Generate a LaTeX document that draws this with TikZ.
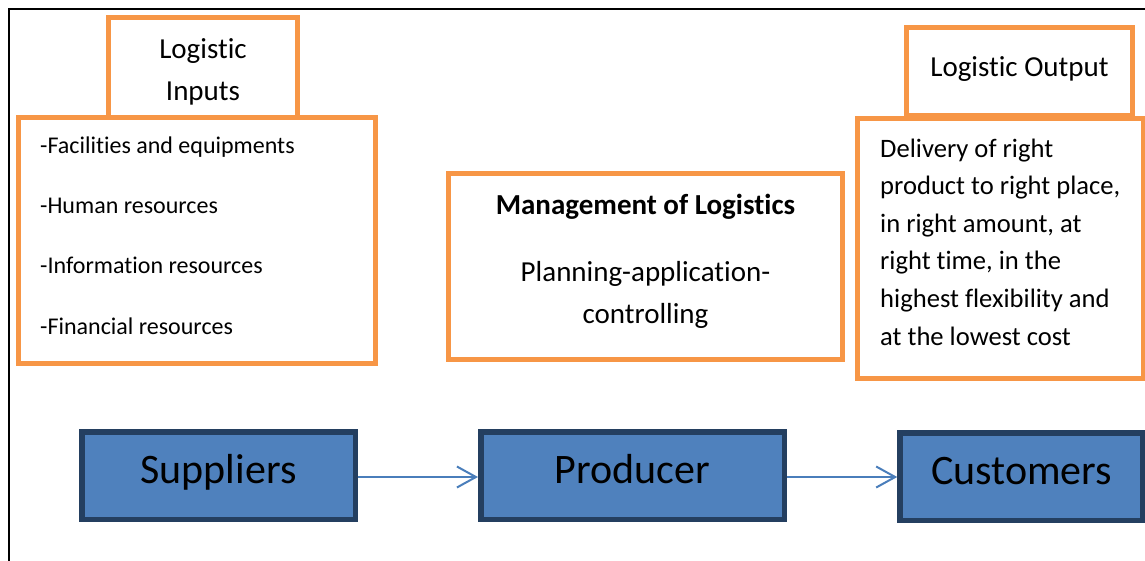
\documentclass[tikz,border=0pt]{standalone}
\usepackage{fontspec}
\setmainfont{Carlito}[Ligatures={NoCommon,NoContextual}]
\usetikzlibrary{arrows.meta}
\definecolor{accentorange}{HTML}{F79646}
\definecolor{accentblue}{HTML}{4F81BD}
\definecolor{navyedge}{HTML}{243F60}
\definecolor{flowblue}{HTML}{4A7EBB}
\tikzset{
  obox/.style={draw=accentorange, line width=5pt, fill=white, rectangle, inner sep=0pt},
  label/.style={inner sep=0pt, align=center},
  bbox/.style={draw=navyedge, line width=5.5pt, fill=accentblue, rectangle, inner sep=0pt,
    minimum height=87.5pt, text height=28pt, text depth=12pt,
    font=\fontsize{42}{50}\selectfont},
  flow/.style={draw=flowblue, line width=2pt, -{Straight Barb[length=19pt,width=21pt,line width=2pt]}},
}
\begin{document}
\begin{tikzpicture}[x=1pt,y=-1pt]
\useasboundingbox (0,0) rectangle (1145,560);
% outer frame
\draw[line width=2pt] (8.5,562) -- (8.5,8.5) -- (1150,8.5);

% logistic inputs
\node[obox, minimum width=189pt, minimum height=100pt] (intitle) at (203,67.5) {};
\node[label, font=\fontsize{29}{42}\selectfont] (intitletext) at (203,71.5) {Logistic\\Inputs};
\node[obox, minimum width=357pt, minimum height=246pt] (inlist) at (197,240.5) {};
\node[label, anchor=west, align=left, font=\fontsize{24}{60.3}\selectfont] (inlisttext) at (40,235.5)
  {-Facilities and equipments\\-Human resources\\-Information resources\\-Financial resources};

% management
\node[obox, minimum width=394pt, minimum height=186pt] (mgmt) at (645.5,266.5) {};
\node[label, font=\fontsize{29}{42}\selectfont] (mgmttext) at (645.5,261.5)
  {\textbf{Management of Logistics}\\[25pt]Planning-application-\\controlling};

% logistic output
\node[obox, minimum width=286pt, minimum height=260pt] (outbox) at (1000.5,248) {};
\node[label, anchor=west, align=left, font=\fontsize{26.6}{37.6}\selectfont] (outtext) at (880,242)
  {Delivery of right\\product to right place,\\in right amount, at\\right time, in the\\highest flexibility and\\at the lowest cost};
\node[obox, minimum width=226pt, minimum height=88.5pt, anchor=south] (outtitle) at (1019.5,118) {};
\node[label, font=\fontsize{29}{36}\selectfont] (outtitletext) at (1019.5,68.75) {Logistic Output};

% flow of goods
\node[bbox, minimum width=273.5pt] (sup) at (218.5,475.5) {Suppliers};
\node[bbox, minimum width=303.5pt] (prod) at (632.5,475.5) {Producer};
\node[bbox, minimum width=243pt] (cust) at (1021.5,476.5) {Customers};
\draw[flow] ([yshift=-1.5pt]sup.east) -- ([yshift=-1.5pt]prod.west);
\draw[flow] ([yshift=-1.5pt]prod.east) -- ([yshift=-0.5pt]cust.west);
\end{tikzpicture}
\end{document}
